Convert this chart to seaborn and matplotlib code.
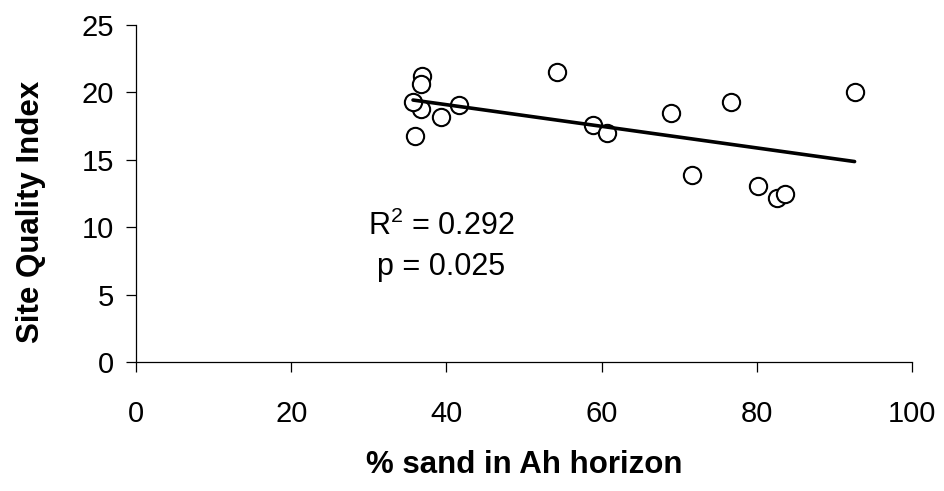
import numpy as np
import pandas as pd
import matplotlib
matplotlib.use("Agg")
import matplotlib.pyplot as plt
import seaborn as sns

# Data
sand_pct = [36.9, 36.7, 36.7, 35.7, 39.3, 36.0, 41.6, 54.2, 58.9, 60.7,
            68.9, 71.7, 76.7, 92.6, 80.2, 82.6, 83.6]
site_quality = [21.2, 20.6, 18.75, 19.3, 18.2, 16.75, 19.1, 21.5, 17.6, 17.0,
                18.5, 13.9, 19.3, 20.0, 13.05, 12.15, 12.5]
x_ticks = [0, 20, 40, 60, 80, 100]
y_ticks = [0, 5, 10, 15, 20, 25]
stats_lines = [r"R$^\mathregular{2}$ = 0.292", "p = 0.025"]
stats_pos_x = 39.3
stats_pos_y = [9.4, 6.45]

df = pd.DataFrame({"sand": sand_pct, "sqi": site_quality})

sns.set_theme(style="white")
plt.rcParams["font.family"] = ["Liberation Sans", "DejaVu Sans"]
plt.rcParams["mathtext.fontset"] = "custom"
plt.rcParams["mathtext.rm"] = "Liberation Sans"
plt.rcParams["mathtext.it"] = "Liberation Sans:italic"
plt.rcParams["mathtext.bf"] = "Liberation Sans:bold"

fig = plt.figure(figsize=(9.45, 4.91), dpi=100)
ax = fig.add_axes([136 / 945, 1 - 362 / 491, 776 / 945, 337 / 491])

sns.regplot(data=df, x="sand", y="sqi", ci=None, truncate=True, ax=ax,
            color="black",
            scatter_kws=dict(s=155, facecolor="white", edgecolor="black",
                             linewidths=1.5, alpha=1, zorder=2),
            line_kws=dict(color="black", lw=2.6, zorder=3))

ax.set_xlim(0, 100)
ax.set_ylim(0, 25)
ax.set_xticks(x_ticks)
ax.set_yticks(y_ticks)
ax.set_xticklabels([str(t) for t in x_ticks])
ax.set_yticklabels([str(t) for t in y_ticks])

for side in ["top", "right"]:
    ax.spines[side].set_visible(False)
for side in ["left", "bottom"]:
    ax.spines[side].set_color("black")
    ax.spines[side].set_linewidth(0.9)

ax.tick_params(axis="both", which="major", direction="out", length=7.2,
               width=0.9, color="black", labelsize=21, labelcolor="black",
               left=True, bottom=True)
ax.tick_params(axis="x", pad=20.5)
ax.tick_params(axis="y", pad=8.5)

ax.set_xlabel("% sand in Ah horizon", fontsize=22.5, fontweight="bold",
              labelpad=15.5, color="black")
ax.set_ylabel("Site Quality Index", fontsize=22.5, fontweight="bold",
              color="black")
ax.yaxis.set_label_coords(-0.116, 0.445)

for txt, yy in zip(stats_lines, stats_pos_y):
    ax.text(stats_pos_x, yy, txt, ha="center", va="baseline", fontsize=22,
            color="black")

fig.savefig("out.png", dpi=100)
